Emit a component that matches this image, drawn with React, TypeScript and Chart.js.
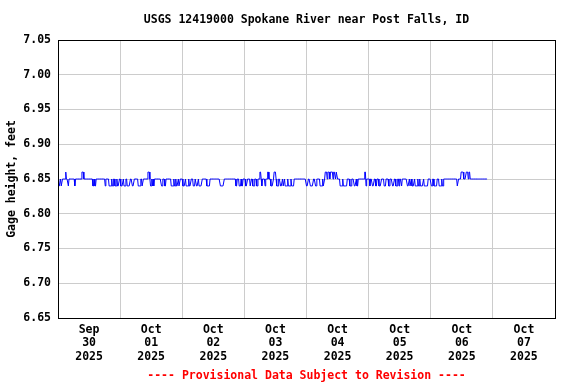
import React, { useEffect, useRef } from 'react';
import { Chart, registerables } from 'chart.js';

Chart.register(...registerables);

const TITLE = 'USGS 12419000 Spokane River near Post Falls, ID';
const Y_TITLE = 'Gage height, feet';
const FOOTNOTE = '---- Provisional Data Subject to Revision ----';

// one label per day, Sep 30 .. Oct 07 2025
const dayLabels: string[][] = [
  ['Sep', '30', '2025'],
  ['Oct', '01', '2025'],
  ['Oct', '02', '2025'],
  ['Oct', '03', '2025'],
  ['Oct', '04', '2025'],
  ['Oct', '05', '2025'],
  ['Oct', '06', '2025'],
  ['Oct', '07', '2025'],
];

const yTicks = [6.65, 6.7, 6.75, 6.8, 6.85, 6.9, 6.95, 7.0, 7.05];

// 15-minute gage readings starting Sep 30 00:00
const sampleCount = 664;
const baseLevel = 6.85;
const lowLevel = 6.84;
const highLevel = 6.86;

// [first, last] reading index (15-min steps) that read 6.84 ft
const lowRuns: [number, number][] = [
  [1, 3], [5, 6], [16, 16], [26, 26], [54, 55], [57, 58], [73, 73], [79, 82], [84, 85],
  [88, 90], [92, 94], [97, 100], [102, 104], [107, 111], [115, 117], [124, 127], [130, 131],
  [143, 144], [146, 146], [148, 148], [160, 161], [165, 166], [175, 178], [180, 181],
  [183, 185], [187, 188], [193, 196], [198, 201], [203, 205], [209, 211], [214, 216],
  [218, 222], [230, 234], [251, 256], [275, 276], [280, 282], [284, 285], [290, 292],
  [297, 298], [301, 303], [307, 308], [315, 315], [320, 320], [329, 332], [338, 340],
  [344, 346], [348, 349], [351, 354], [356, 359], [361, 364], [384, 386], [390, 394],
  [398, 399], [405, 408], [410, 411], [436, 439], [441, 446], [451, 453], [458, 460],
  [462, 463], [476, 476], [482, 482], [486, 488], [491, 492], [496, 499], [504, 506],
  [511, 512], [517, 519], [522, 524], [527, 527], [531, 531], [540, 542], [544, 545],
  [547, 550], [552, 555], [557, 558], [560, 564], [566, 571], [577, 578], [581, 585],
  [589, 592], [594, 595], [617, 618],
];

// [first, last] reading index that read 6.86 ft
const highRuns: [number, number][] = [
  [12, 12], [37, 39], [139, 141], [312, 313], [324, 325], [334, 336], [413, 415],
  [417, 419], [421, 424], [426, 428], [430, 431], [474, 475], [623, 626], [631, 633],
  [635, 636],
];

const FONT_FAMILY = '"DejaVu Sans Mono", "Liberation Mono", monospace';
const FONT_SIZE = 11.5;

function buildSeries() {
  const pts: { x: number; y: number }[] = [];
  for (let i = 0; i < sampleCount; i++) {
    let v = baseLevel;
    if (lowRuns.some(([a, b]) => i >= a && i <= b)) v = lowLevel;
    if (highRuns.some(([a, b]) => i >= a && i <= b)) v = highLevel;
    pts.push({ x: i / 4, y: v });
  }
  return pts;
}

// frame around the plot plus title and footnote centred over the plot area
const framePlugin = {
  id: 'frame',
  afterDraw(chart: any) {
    const { ctx, chartArea } = chart;
    const L = Math.round(chartArea.left);
    const T = Math.round(chartArea.top);
    const R = Math.round(chartArea.right);
    const B = Math.round(chartArea.bottom);
    ctx.save();
    ctx.strokeStyle = '#000000';
    ctx.lineWidth = 1;
    ctx.strokeRect(L + 0.5, T + 0.5, R - L, B - T);
    const cx = (chartArea.left + chartArea.right) / 2;
    ctx.font = `bold ${FONT_SIZE}px ${FONT_FAMILY}`;
    ctx.textAlign = 'center';
    ctx.textBaseline = 'middle';
    ctx.fillStyle = '#000000';
    ctx.fillText(TITLE, cx, 20);
    ctx.fillStyle = '#ff0000';
    ctx.fillText(FOOTNOTE, cx, 376);
    ctx.restore();
  },
};

export default function App() {
  const ref = useRef<HTMLCanvasElement | null>(null);

  useEffect(() => {
    document.body.style.margin = '0';
    const canvas = ref.current;
    if (!canvas) return;
    const totalHours = dayLabels.length * 24;
    const font = { family: FONT_FAMILY, size: FONT_SIZE, weight: 'bold' as const, lineHeight: '13.5px' };

    const chart = new Chart(canvas, {
      type: 'line',
      data: {
        datasets: [
          {
            data: buildSeries(),
            borderColor: '#0000ff',
            borderWidth: 1,
            pointRadius: 0,
            tension: 0,
            fill: false,
          },
        ],
      },
      options: {
        animation: false,
        responsive: false,
        events: [],
        layout: { padding: { left: 0, right: 21, top: 40, bottom: 20 } },
        plugins: {
          legend: { display: false },
          tooltip: { enabled: false },
          title: { display: false },
        },
        scales: {
          x: {
            type: 'linear',
            min: 0,
            max: totalHours,
            afterBuildTicks: (scale: any) => {
              const t: { value: number }[] = [];
              for (let h = 0; h <= totalHours; h += 12) t.push({ value: h });
              scale.ticks = t;
            },
            afterFit: (scale: any) => {
              scale.height = 46;
            },
            ticks: {
              autoSkip: false,
              maxRotation: 0,
              minRotation: 0,
              padding: 5,
              color: '#000000',
              font,
              callback: (value: any) => {
                const h = Number(value);
                if (h % 24 === 12) return dayLabels[(h - 12) / 24];
                return '';
              },
            },
            grid: {
              drawTicks: false,
              lineWidth: 1,
              color: (ctx: any) =>
                ctx.tick && ctx.tick.value % 24 === 0 ? '#cccccc' : 'rgba(0,0,0,0)',
            },
            border: { display: false },
          },
          y: {
            type: 'linear',
            min: yTicks[0],
            max: yTicks[yTicks.length - 1],
            afterBuildTicks: (scale: any) => {
              scale.ticks = yTicks.map((v) => ({ value: v }));
            },
            afterFit: (scale: any) => {
              scale.width = 58;
            },
            ticks: {
              padding: 7,
              color: '#000000',
              font,
              callback: (value: any) => Number(value).toFixed(2),
            },
            grid: { drawTicks: false, color: '#cccccc', lineWidth: 1 },
            border: { display: false },
            title: {
              display: true,
              text: Y_TITLE,
              color: '#000000',
              font,
              padding: { top: 5, bottom: 0 },
            },
          },
        },
      },
      plugins: [framePlugin],
    });

    return () => chart.destroy();
  }, []);

  return (
    <div style={{ position: 'fixed', left: 0, top: 0, width: 576, height: 384, background: '#ffffff' }}>
      <canvas ref={ref} width={576} height={384} style={{ display: 'block' }} />
    </div>
  );
}
